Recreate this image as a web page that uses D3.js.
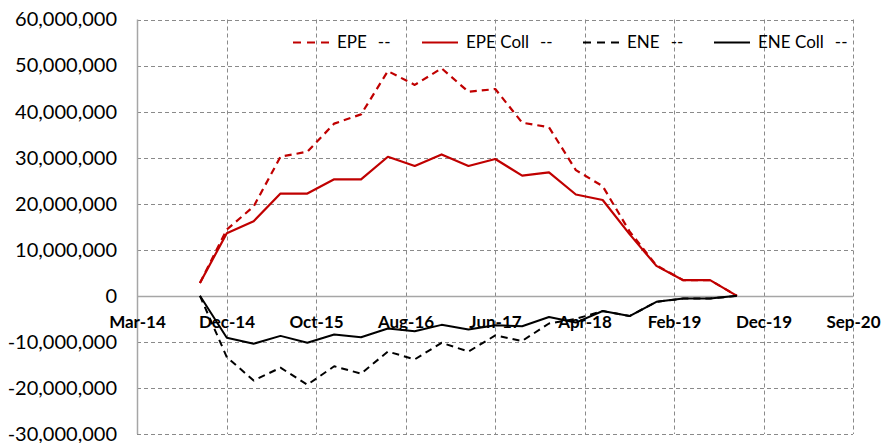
<!DOCTYPE html>
<html lang="en">
<head>
    <meta charset="UTF-8">
    <title>EPE / ENE Profile</title>
    <script src="https://d3js.org/d3.v7.min.js"></script>
    <style>
        body { margin: 0; background: #fff; }
        svg { display: block; font-family: Lato, "Open Sans", sans-serif; }
        .y-axis text { font-size: 20px; fill: #000; }
        .x-axis text { font-size: 17px; font-weight: bold; fill: #000; }
        .legend text { font-size: 17px; fill: #000; }
    </style>
</head>
<body>
    <svg id="chart"></svg>

    <script>
        // Observation dates (one every ~quarter)
        const dates = ["2014-09-30", "2014-12-29", "2015-03-29", "2015-06-27", "2015-09-25",
            "2015-12-24", "2016-03-23", "2016-06-21", "2016-09-19", "2016-12-18",
            "2017-03-18", "2017-06-16", "2017-09-14", "2017-12-13", "2018-03-13",
            "2018-06-11", "2018-09-09", "2018-12-08", "2019-03-08", "2019-06-06", "2019-09-04"];

        // Exposure series, in millions
        const epe     = [2.8, 14.4, 19.4, 30.2, 31.3, 37.4, 39.4, 48.8, 45.8, 49.4, 44.3, 44.9, 37.6, 36.6, 27.3, 23.8, 14.0, 6.6, 3.4, 3.4, 0];
        const epeColl = [2.8, 13.6, 16.2, 22.2, 22.2, 25.3, 25.3, 30.2, 28.2, 30.7, 28.2, 29.7, 26.1, 26.8, 22.0, 20.8, 13.4, 6.5, 3.4, 3.4, 0];
        const ene     = [0, -13.3, -18.4, -15.6, -19.3, -15.3, -16.9, -12.1, -13.8, -10.2, -12.1, -8.6, -9.8, -6.0, -5.0, -3.3, -4.4, -1.3, -0.6, -0.6, 0];
        const eneColl = [0, -9.1, -10.4, -8.7, -10.2, -8.4, -9.0, -7.1, -7.7, -6.3, -7.3, -6.4, -6.6, -4.6, -5.8, -3.3, -4.4, -1.3, -0.6, -0.6, 0];

        const seriesNames = ["EPE", "EPE Coll", "ENE", "ENE Coll"];

        // Axis ticks
        const xTickDates = ["2014-03-03", "2014-12-28", "2015-10-24", "2016-08-19", "2017-06-15",
            "2018-04-11", "2019-02-05", "2019-12-02", "2020-09-27"];
        const yTicks = [-30e6, -20e6, -10e6, 0, 10e6, 20e6, 30e6, 40e6, 50e6, 60e6];

        const W = 882, H = 443;
        const plot = { left: 137, right: 853, top: 19.5, bottom: 434 };

        const parse = d3.timeParse("%Y-%m-%d");
        const xDates = dates.map(parse);
        const xTicks = xTickDates.map(parse);

        const svg = d3.select("#chart").attr("width", W).attr("height", H);

        const x = d3.scaleTime()
            .domain([xTicks[0], xTicks[xTicks.length - 1]])
            .range([plot.left, plot.right]);

        const y = d3.scaleLinear()
            .domain([-30e6, 60e6])
            .range([plot.bottom, plot.top]);

        const fmt = d3.formatLocale({ decimal: ".", thousands: ",", grouping: [3], currency: ["", ""], minus: "-" }).format(",");

        // gridlines
        const grid = svg.append("g").attr("stroke", "#8a8a8a").attr("stroke-width", 1)
            .attr("stroke-dasharray", "4,3").attr("fill", "none");
        grid.selectAll(".hg").data(yTicks.filter(d => d !== 0)).enter().append("line")
            .attr("x1", plot.left).attr("x2", plot.right)
            .attr("y1", d => Math.round(y(d)) + 0.5).attr("y2", d => Math.round(y(d)) + 0.5);
        grid.selectAll(".vg").data(xTicks.slice(1)).enter().append("line")
            .attr("x1", d => Math.round(x(d)) + 0.5).attr("x2", d => Math.round(x(d)) + 0.5)
            .attr("y1", plot.top).attr("y2", plot.bottom);

        // axis lines
        svg.append("line")
            .attr("x1", plot.left + 0.5).attr("x2", plot.left + 0.5)
            .attr("y1", plot.top).attr("y2", plot.bottom)
            .attr("stroke", "#a6a6a6").attr("stroke-width", 1.5);
        svg.append("line")
            .attr("x1", plot.left).attr("x2", plot.right)
            .attr("y1", Math.round(y(0)) + 0.5).attr("y2", Math.round(y(0)) + 0.5)
            .attr("stroke", "#a6a6a6").attr("stroke-width", 1.5);

        // y axis labels
        const yAxis = svg.append("g").attr("class", "y-axis")
            .attr("transform", `translate(${plot.left},0)`)
            .call(d3.axisLeft(y).tickValues(yTicks).tickSize(0).tickPadding(20).tickFormat(fmt));
        yAxis.select(".domain").remove();
        yAxis.attr("font-family", null).attr("font-size", null);

        // series
        const series = [
            { name: seriesNames[0], values: epe, color: "#c00000", dash: "7,5", width: 2.2 },
            { name: seriesNames[1], values: epeColl, color: "#c00000", dash: null, width: 2.2 },
            { name: seriesNames[2], values: ene, color: "#000000", dash: "7,5", width: 2 },
            { name: seriesNames[3], values: eneColl, color: "#000000", dash: null, width: 2 }
        ];

        const line = d3.line()
            .x((d, i) => x(xDates[i]))
            .y(d => y(d * 1e6));

        svg.selectAll(".series").data(series).enter().append("path")
            .attr("class", "series")
            .attr("d", d => line(d.values))
            .attr("fill", "none")
            .attr("stroke", d => d.color)
            .attr("stroke-width", d => d.width)
            .attr("stroke-dasharray", d => d.dash)
            .attr("stroke-linejoin", "round");

        // x axis labels
        const xAxis = svg.append("g").attr("class", "x-axis")
            .attr("transform", `translate(0,${y(0)})`)
            .call(d3.axisBottom(x).tickValues(xTicks).tickSize(0).tickPadding(20.5)
                .tickFormat(d3.timeFormat("%b-%y")));
        xAxis.select(".domain").remove();
        xAxis.attr("font-family", null).attr("font-size", null);

        // legend
        const legendX = [293, 422, 583, 714];
        const legend = svg.append("g").attr("class", "legend");
        const items = legend.selectAll(".item").data(series).enter().append("g")
            .attr("transform", (d, i) => `translate(${legendX[i]},42)`);
        items.append("line")
            .attr("x1", 0).attr("x2", 36).attr("y1", 0.5).attr("y2", 0.5)
            .attr("stroke", d => d.color)
            .attr("stroke-width", d => d.width)
            .attr("stroke-dasharray", d => d.dash ? "8,6" : null);
        const lbl = items.append("text")
            .attr("x", 44).attr("dy", "0.35em")
            .text(d => d.name);
        items.append("text")
            .attr("dy", "0.35em")
            .attr("fill", "#404040")
            .attr("x", function (d, i) {
                return 44 + lbl.nodes()[i].getComputedTextLength() + 11;
            })
            .text("--");
    </script>
</body>
</html>
